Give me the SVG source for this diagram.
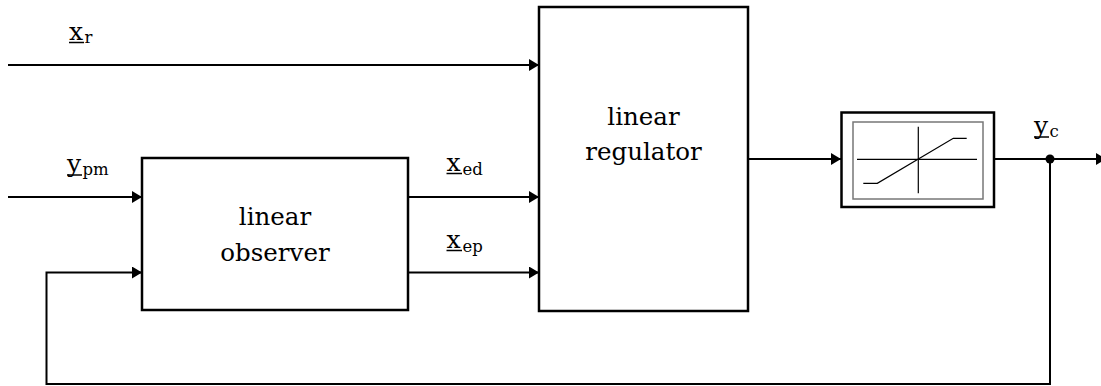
<svg xmlns="http://www.w3.org/2000/svg" width="1101" height="386" viewBox="0 0 1101 386">
  <style>
    .box { fill: #fff; stroke: #000; stroke-width: 2.5; }
    .wire { fill: none; stroke: #000; stroke-width: 2; }
    .thin { fill: none; stroke: #000; stroke-width: 1.2; }
    text { font-family: "DejaVu Serif", serif; fill: #000; }
    .title { font-size: 24.5px; text-anchor: middle; }
    .sym { font-size: 25px; }
    .sub { font-size: 16.5px; }
    .ul { stroke: #000; stroke-width: 1.5; }
  </style>
  <defs>
    <marker id="arrow" markerUnits="userSpaceOnUse" markerWidth="11" markerHeight="13" refX="10" refY="6" orient="auto">
      <path d="M0,0 L10,6 L0,12 z" fill="#000"/>
    </marker>
  </defs>

  <!-- signal lines -->
  <g id="connectors">
    <line class="wire" x1="8" y1="65" x2="539" y2="65" marker-end="url(#arrow)"/>
    <line class="wire" x1="8" y1="197" x2="142" y2="197" marker-end="url(#arrow)"/>
    <line class="wire" x1="408" y1="197" x2="539" y2="197" marker-end="url(#arrow)"/>
    <line class="wire" x1="408" y1="272.5" x2="539" y2="272.5" marker-end="url(#arrow)"/>
    <line class="wire" x1="748" y1="159" x2="841" y2="159" marker-end="url(#arrow)"/>
    <line class="wire" x1="994" y1="159" x2="1106" y2="159" marker-end="url(#arrow)"/>
    <polyline class="wire" points="1050,159 1050,384 46.5,384 46.5,272.5 142,272.5" marker-end="url(#arrow)"/>
    <circle cx="1050" cy="159" r="4.5" fill="#000"/>
  </g>

  <!-- observer block -->
  <g id="observer">
    <rect class="box" x="142" y="158" width="266" height="152"/>
    <text class="title" x="275" y="225">linear</text>
    <text class="title" x="275" y="261">observer</text>
  </g>

  <!-- regulator block -->
  <g id="regulator">
    <rect class="box" x="539" y="7" width="209" height="304"/>
    <text class="title" x="643.5" y="125">linear</text>
    <text class="title" x="643.5" y="160">regulator</text>
  </g>

  <!-- saturation block -->
  <g id="saturation">
    <rect class="box" x="841.5" y="112.5" width="152.5" height="94.5"/>
    <rect x="853" y="122" width="130" height="77" fill="none" stroke="#777" stroke-width="1.5"/>
    <line class="thin" x1="857" y1="159.3" x2="977" y2="159.3"/>
    <line class="thin" x1="918.3" y1="126.7" x2="918.3" y2="193.3"/>
    <polyline class="thin" points="863.3,183.3 877.3,183.3 953.3,138.3 966.7,138.3"/>
  </g>

  <!-- signal labels -->
  <g id="labels">
    <g id="label-xr">
      <text class="sym" x="69" y="40">x</text>
      <line class="ul" x1="69" y1="42.5" x2="84" y2="42.5"/>
      <text class="sub" x="84.5" y="43">r</text>
    </g>
    <g id="label-ypm">
      <text class="sym" x="67" y="172">y</text>
      <line class="ul" x1="67" y1="175" x2="82" y2="175"/>
      <text class="sub" x="82.5" y="175">pm</text>
    </g>
    <g id="label-xed">
      <text class="sym" x="446.5" y="171">x</text>
      <line class="ul" x1="446.5" y1="173.5" x2="462" y2="173.5"/>
      <text class="sub" x="462.5" y="175">ed</text>
    </g>
    <g id="label-xep">
      <text class="sym" x="446.5" y="248">x</text>
      <line class="ul" x1="446.5" y1="250.5" x2="462" y2="250.5"/>
      <text class="sub" x="462.5" y="252">ep</text>
    </g>
    <g id="label-yc">
      <text class="sym" x="1034" y="134">y</text>
      <line class="ul" x1="1034" y1="137" x2="1049" y2="137"/>
      <text class="sub" x="1049.5" y="137">c</text>
    </g>
  </g>
</svg>
